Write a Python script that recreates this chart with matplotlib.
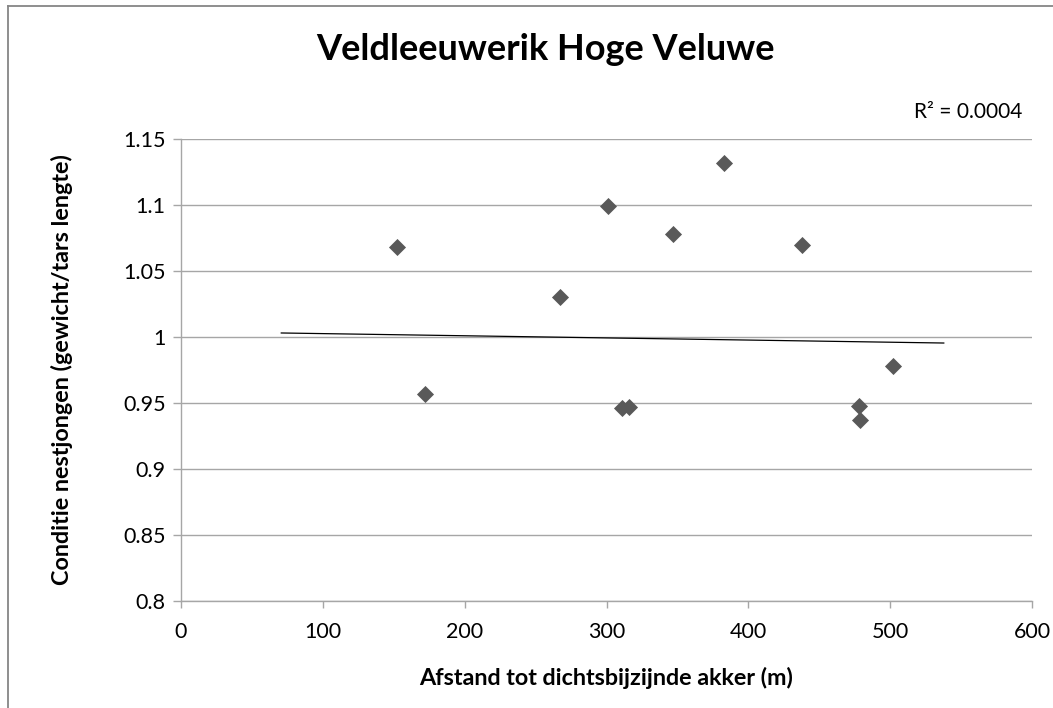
import numpy as np
import matplotlib.pyplot as plt
from matplotlib.lines import Line2D

plt.rcParams['font.family'] = ['Lato', 'DejaVu Sans']

# afstand tot akker (m) en conditie nestjongen (gewicht/tars lengte)
afstand = [152, 172, 267, 301, 311, 316, 347, 383, 438, 478, 479, 502]
conditie = [1.068, 0.957, 1.030, 1.099, 0.946, 0.947, 1.078, 1.132, 1.070, 0.948, 0.937, 0.978]

# lineaire trendlijn zoals in de grafiek
trend_a = -1.63e-5
trend_b = 1.0042
trend_x = [70.7, 537.8]
r2_tekst = 'R² = 0.0004'

xticks = [0, 100, 200, 300, 400, 500, 600]
yticks = [0.8, 0.85, 0.9, 0.95, 1, 1.05, 1.1, 1.15]
ylabels = ['0.8', '0.85', '0.9', '0.95', '1', '1.05', '1.1', '1.15']

fig = plt.figure(figsize=(10.53, 7.08), dpi=100)
ax = fig.add_axes([181 / 1053, 1 - 601 / 708, 851 / 1053, 462 / 708])

grid_kleur = '#a6a6a6'
ax.set_xlim(0, 600)
ax.set_ylim(0.8, 1.15)
ax.set_xticks(xticks)
ax.set_yticks(yticks)
ax.set_yticklabels(ylabels)
ax.yaxis.grid(True, color=grid_kleur, lw=1.0)
ax.set_axisbelow(True)
for kant in ['top', 'right']:
    ax.spines[kant].set_visible(False)
for kant in ['left', 'bottom']:
    ax.spines[kant].set_color(grid_kleur)
    ax.spines[kant].set_linewidth(1.0)
ax.tick_params(axis='both', colors=grid_kleur, labelcolor='black', labelsize=15.5, width=1.0)
ax.tick_params(axis='y', length=6, pad=5)
ax.tick_params(axis='x', length=5, pad=10)

ax.scatter(afstand, conditie, marker='D', s=8.7 ** 2, color='#595959', zorder=3, linewidths=0)

tx = np.array(trend_x)
ax.plot(tx, trend_a * tx + trend_b, color='black', lw=0.9, zorder=2)

ax.set_xlabel('Afstand tot dichtsbijzijnde akker (m)', fontsize=16.8, fontweight='bold', va='center')
ax.set_ylabel('Conditie nestjongen (gewicht/tars lengte)', fontsize=16.8, fontweight='bold', va='center')
ax.xaxis.set_label_coords(0.5, (601 - 678) / 462)
ax.yaxis.set_label_coords((62 - 181) / 851, 0.5)

fig.text(545 / 1053, 1 - 50 / 708, 'Veldleeuwerik Hoge Veluwe', ha='center', va='center',
         fontsize=26, fontweight='bold')
fig.text(1022 / 1053, 1 - 112 / 708, r2_tekst, ha='right', va='center', fontsize=15)

# rand van het grafiekgebied
rand = '#868686'
fig.add_artist(Line2D([7.5 / 1053, 7.5 / 1053], [0, 1 - 5.5 / 708], transform=fig.transFigure,
                      color=rand, lw=1.3))
fig.add_artist(Line2D([7.5 / 1053, 1], [1 - 5.5 / 708, 1 - 5.5 / 708], transform=fig.transFigure,
                      color=rand, lw=1.3))

fig.savefig('out.png', dpi=100)
